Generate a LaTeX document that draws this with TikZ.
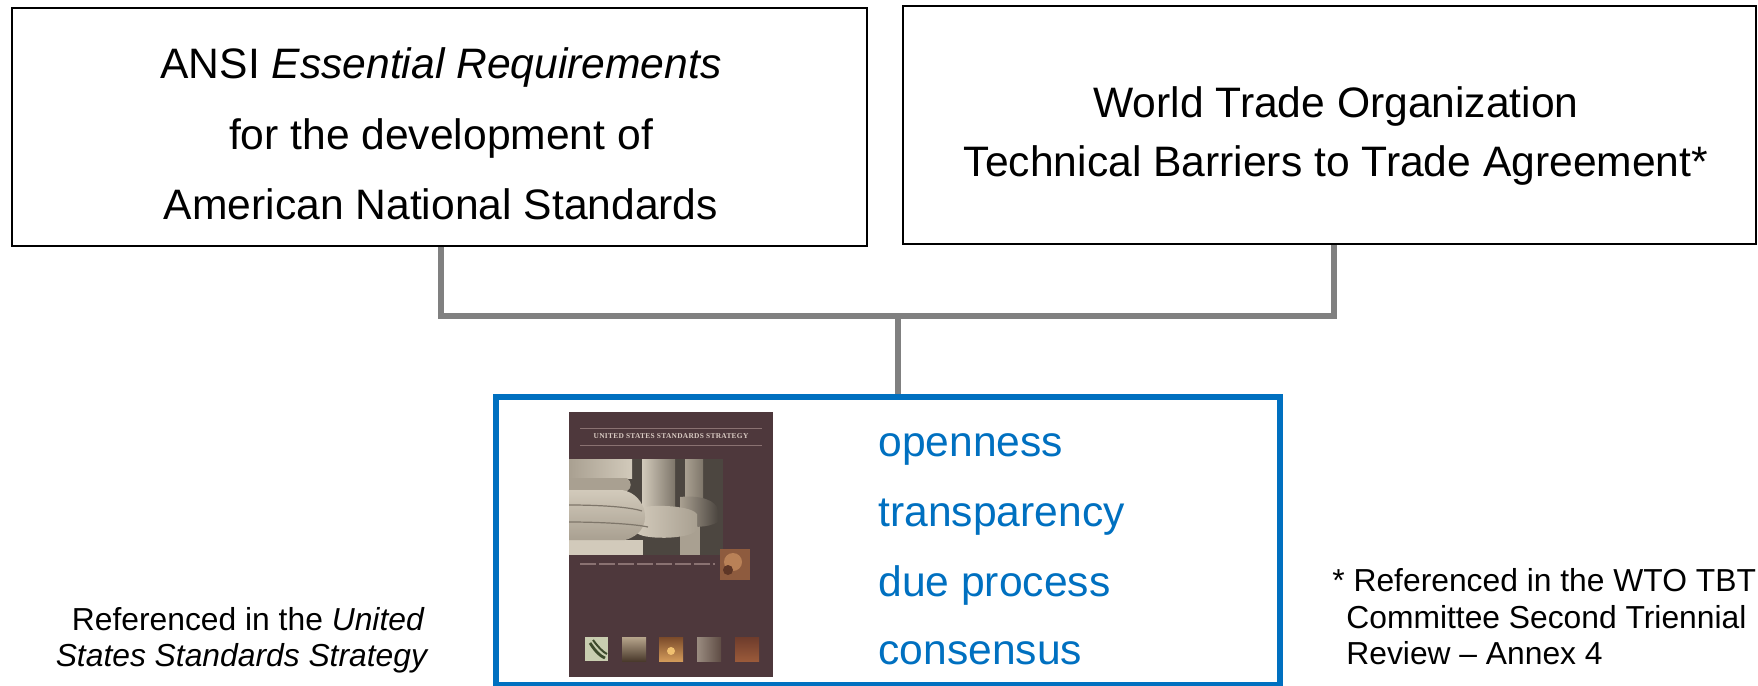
\documentclass[tikz,border=0pt]{standalone}
\usepackage{fontspec}
\setmainfont{Liberation Sans}
\newfontfamily\covertitlefont{Liberation Serif}
\usetikzlibrary{calc}
\definecolor{ansiblue}{HTML}{0070C0}
\definecolor{conngray}{HTML}{808080}
\definecolor{coverbg}{HTML}{4E383C}
\definecolor{covertxt}{HTML}{D9CBC3}
\definecolor{coverline}{HTML}{8A7272}
\definecolor{stoneA}{HTML}{D2CABB}
\definecolor{stoneB}{HTML}{A9A091}
\definecolor{stoneC}{HTML}{7E766A}
\definecolor{stoneD}{HTML}{4C4640}
\definecolor{sepA}{HTML}{8E5B3E}
\definecolor{sepB}{HTML}{B98157}
\definecolor{sepC}{HTML}{5E3626}
\definecolor{thA}{HTML}{C9CDB0}
\definecolor{thAd}{HTML}{3E4A2C}
\definecolor{thB1}{HTML}{B7A58C}
\definecolor{thB2}{HTML}{4A3A2C}
\definecolor{thC1}{HTML}{7A4A2A}
\definecolor{thC2}{HTML}{D29A5A}
\definecolor{thC3}{HTML}{F0C070}
\definecolor{thD1}{HTML}{9A8C80}
\definecolor{thD2}{HTML}{5E4C44}
\definecolor{thE1}{HTML}{6E3C2C}
\definecolor{thE2}{HTML}{9A5A3A}
\begin{document}
\begin{tikzpicture}[x=0.5pt,y=-0.5pt,
  topbox/.style={draw=black, line width=1.1pt, fill=white, minimum height=119pt, inner sep=0pt},
  bluebox/.style={draw=ansiblue, line width=2.6pt, minimum width=392pt, minimum height=144pt, inner sep=0pt},
  conn/.style={draw=conngray, line width=3pt, line join=miter},
  bigtext/.style={anchor=base, inner sep=0pt, font=\fontsize{21.3}{25}\selectfont},
  bluetext/.style={anchor=base west, inner sep=0pt, text=ansiblue, font=\fontsize{21.3}{25}\selectfont},
  notetext/.style={inner sep=0pt, font=\fontsize{15.9}{18}\selectfont}]
\useasboundingbox (0,0) rectangle (1758,686);

% top boxes
\node[topbox, minimum width=427.5pt] (ansi) at (439.5,127) {};
\node[topbox, minimum width=426.5pt] (wto) at (1329.5,125) {};
\node[bigtext] (ansi1) at (441,78) {ANSI \textit{Essential Requirements}};
\node[bigtext] (ansi2) at (441,149) {for the development of};
\node[bigtext] (ansi3) at (441,219) {American National Standards};
\node[bigtext] (wto1) at (1336,117) {World Trade Organization};
\node[bigtext] (wto2) at (1336,176) {Technical Barriers to Trade Agreement*};

% bottom box
\node[bluebox] (usss) at (888,541) {};

% connectors
\coordinate (junction) at (898,316);
\draw[conn] ($(ansi.south)+(1.5,0)$) |- (junction) -| ($(wto.south)+(4.5,0)$);
\draw[conn] (junction) -- (junction |- usss.north);

% book cover
\fill[coverbg] (569,412) rectangle (773,677);
\draw[coverline, line width=0.3pt] (580,428) -- (762,428);
\draw[coverline, line width=0.3pt] (580,445) -- (762,445);
\node[inner sep=0pt, text=covertxt, font=\covertitlefont\fontsize{3.7}{5}\selectfont\bfseries] (covertitle) at (671,436.5) {\addfontfeatures{LetterSpace=4}UNITED STATES STANDARDS STRATEGY};
% columns photo
\fill[stoneD] (569,459) rectangle (723,555);
\fill[stoneB] (680,525) rectangle (700,555);
\shade[left color=stoneB, right color=stoneC] (685,459) rectangle (703,500);
\shade[left color=stoneB, right color=stoneD] (680,497) .. controls (700,495) and (716,500) .. (718,510) -- (718,522) .. controls (708,528) and (690,528) .. (680,524) -- cycle;
\shade[left color=stoneA, right color=stoneC] (642,459) rectangle (675,510);
\shade[left color=stoneA, right color=stoneB] (636,510) .. controls (640,504) and (690,504) .. (697,514) -- (697,530) .. controls (690,540) and (640,540) .. (636,532) -- cycle;
\shade[left color=stoneB, right color=stoneA] (569,459) rectangle (632,478);
\fill[stoneB] (569,478) -- (627,478) .. controls (632,482) and (632,488) .. (627,491) -- (569,491) -- cycle;
\fill[stoneA] (569,540) rectangle (643,555);
\shade[top color=stoneA, bottom color=stoneB] (569,490) -- (622,490) .. controls (648,494) and (656,532) .. (625,540) -- (569,540) -- cycle;
\draw[stoneC, line width=0.6pt] (569,505) .. controls (600,505) and (630,507) .. (642,511);
\draw[stoneC, line width=0.6pt] (569,522) .. controls (600,522) and (635,524) .. (648,527);
% small sepia photo
\fill[sepA] (720,549) rectangle (750,580);
\fill[sepB] (733,562) circle (9);
\fill[sepC] (728,570) circle (5);
% tiny text row
\draw[coverline, line width=1.2pt, dash pattern=on 8pt off 1.5pt] (580,564) -- (715,564);
% thumbnails
\fill[thA] (585,637) rectangle (608,661);
\draw[thAd, line width=1.4pt] (590,643) .. controls (596,652) and (600,656) .. (605,658);
\draw[thAd, line width=1pt] (593,640) .. controls (599,648) and (603,652) .. (607,654);
\shade[top color=thB1, bottom color=thB2] (622,637) rectangle (646,661);
\shade[top color=thC1, bottom color=thC2] (659,637) rectangle (683,661);
\fill[thC3] (671,651) circle (4);
\shade[left color=thD1, right color=thD2] (697,637) rectangle (721,661);
\shade[top color=thE1, bottom color=thE2] (735,637) rectangle (759,661);

% blue list
\node[bluetext] (l1) at (878,456) {openness};
\node[bluetext] (l2) at (878,526) {transparency};
\node[bluetext] (l3) at (878,596) {due process};
\node[bluetext] (l4) at (878,664) {consensus};

% notes
\node[notetext, anchor=base east] (n1) at (425,630) {Referenced in the \textit{United}};
\node[notetext, anchor=base east] (n2) at (429,666) {\textit{States Standards Strategy}};
\node[notetext, anchor=base west] (f1) at (1332,591) {* Referenced in the WTO TBT};
\node[notetext, anchor=base west] (f2) at (1346,628) {Committee Second Triennial};
\node[notetext, anchor=base west] (f3) at (1346,664) {Review -- Annex 4};
\end{tikzpicture}
\end{document}
